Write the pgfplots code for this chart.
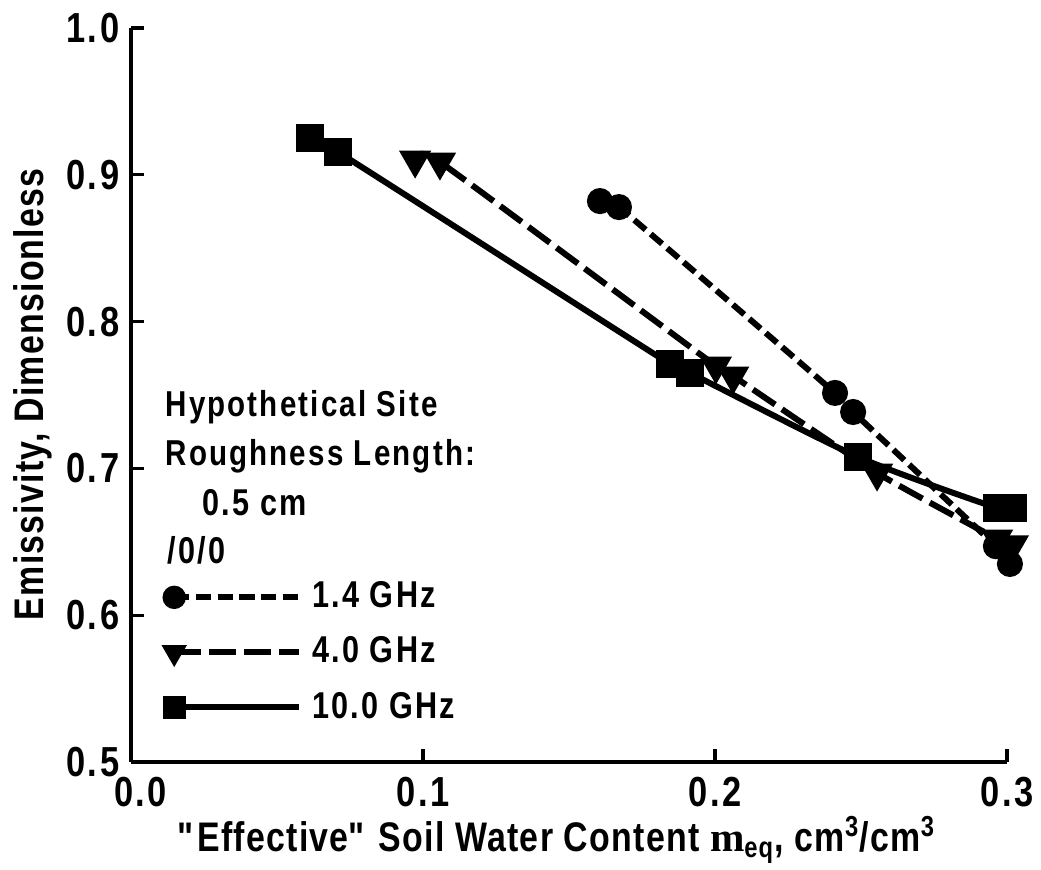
\documentclass[border=0pt]{standalone}
\usepackage{pgfplots}
\pgfplotsset{compat=1.18}
\usepackage{fontspec}
\setmainfont{Liberation Sans}[FakeStretch=0.82, LetterSpace=6]

\begin{document}
\begin{tikzpicture}
\begin{axis}[
    scale only axis,
    width=262.8pt, height=220.2pt,
    xmin=0, xmax=0.3,
    ymin=0.5, ymax=1.0,
    axis x line=bottom, axis y line=left,
    axis line style={-, line width=1.1pt},
    tick align=inside,
    major tick length=4pt,
    tick style={line width=1pt, black},
    xtick={0,0.1,0.2,0.3},
    xticklabels={\phantom{0}0.0,0.1,0.2,0.3},
    ytick={0.5,0.6,0.7,0.8,0.9,1.0},
    yticklabels={0.5,0.6,0.7,0.8,0.9,1.0},
    ticklabel style={font=\fontsize{12.6}{14}\selectfont\bfseries},
    xticklabel style={yshift=-1pt},
    /pgf/number format/assume math mode=true,
    label style={font=\fontsize{12.4}{14}\selectfont\bfseries\addfontfeatures{LetterSpace=3}},
    xlabel={\textquotedbl Effective\textquotedbl\ Soil Water Content {\fontspec{Liberation Serif}m}\textsubscript{eq}, cm\textsuperscript{3}/cm\textsuperscript{3}},
    ylabel={Emissivity, Dimensionless},
    xlabel style={at={(rel axis cs:0.486,0)}, anchor=center, yshift=-23.4pt},
    ylabel style={at={(rel axis cs:0,0.501)}, anchor=center, yshift=29.5pt},
    clip=false,
    legend style={at={(axis cs:0.0116,0.630)}, anchor=north west, draw=none, fill=none,
        inner sep=0pt, row sep=1.2pt,
        font=\fontsize{11.2}{13}\selectfont\bfseries,
        nodes={inner sep=3pt}},
    legend cell align=left,
    legend image code/.code={\draw[mark repeat=2, mark phase=1, #1, mark size=2.6pt] plot coordinates {(0pt,0pt) (37.5pt,0pt)};},
]

% 1.4 GHz
\addplot[black, line width=1.8pt, dash pattern=on 4.5pt off 2pt,
    mark=*, mark size=3pt, mark options={solid},
    smooth, tension=0.3]
coordinates {
    (0.1606,0.8821) (0.1671,0.8780) (0.2411,0.7514) (0.2473,0.7384)
    (0.2962,0.6470) (0.3010,0.6349)
};
\addlegendentry{1.4 GHz}

% 4.0 GHz
\addplot[black, line width=1.8pt, dash pattern=on 8pt off 2.5pt,
    mark=triangle*, mark size=3.8pt, mark options={solid, rotate=180},
    smooth, tension=0.3]
coordinates {
    (0.0973,0.9101) (0.1058,0.9087) (0.2003,0.7698) (0.2062,0.7629)
    (0.2555,0.6969) (0.2966,0.6520) (0.3020,0.6480)
};
\addlegendentry{4.0 GHz}

% 10.0 GHz
\addplot[black, line width=1.8pt, solid,
    mark=square*, mark size=3.2pt,
    smooth, tension=0.4]
coordinates {
    (0.0613,0.9250) (0.0709,0.9155) (0.1846,0.7711) (0.1914,0.7650)
    (0.2490,0.7078) (0.2966,0.6730) (0.3020,0.6730)
};
\addlegendentry{10.0 GHz}

\begin{scope}[font=\fontsize{10.8}{12}\selectfont\bfseries]
\node[anchor=west, inner sep=0pt] at (axis cs:0.0116,0.7418) {Hypothetical Site};
\node[anchor=west, inner sep=0pt] at (axis cs:0.0116,0.7084) {Roughness Length:};
\node[anchor=west, inner sep=0pt] at (axis cs:0.0243,0.6764) {\fontsize{11.2}{13}\selectfont 0.5 cm};
\node[anchor=west, inner sep=0pt] at (axis cs:0.0123,0.6444) {\fontsize{11.2}{13}\selectfont /0/0};
\end{scope}
\end{axis}
\pgfresetboundingbox
\path[use as bounding box] (-39.3pt,-32.4pt) rectangle (273pt,228.6pt);
\end{tikzpicture}
\end{document}
